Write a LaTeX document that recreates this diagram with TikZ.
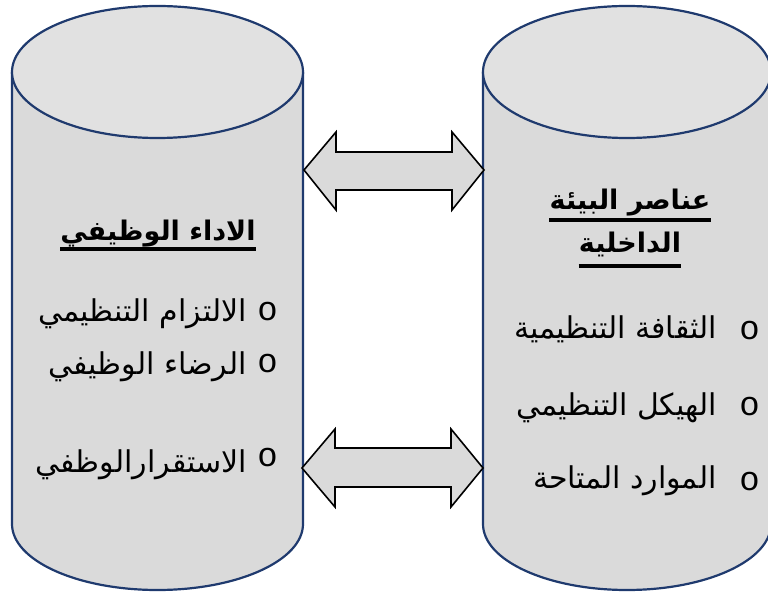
\documentclass[tikz,border=0pt]{standalone}
\usepackage{fontspec}
\TeXXeTstate=1
\newfontfamily\arabicfont[Script=Arabic]{DejaVu Sans}
\newfontfamily\bulletfont{Liberation Mono}
\definecolor{cylline}{HTML}{1F3A6E}
\definecolor{cylbody}{HTML}{DADADA}
\definecolor{cyltop}{HTML}{E1E1E1}
\tikzset{
  cylbody/.style={fill=cylbody, draw=cylline, line width=2.2pt},
  cyltop/.style={fill=cyltop, draw=cylline, line width=2.2pt},
  blockarrow/.style={fill=cylbody, draw=black, line width=1.6pt, line join=miter},
  ttl/.style={inner sep=0pt, font=\arabicfont\bfseries\fontsize{27}{32}\selectfont},
  itm/.style={inner sep=0pt, font=\arabicfont\fontsize{30}{34}\selectfont},
  bul/.style={inner sep=0pt, font=\bulletfont\fontsize{34}{36}\selectfont},
  uline/.style={line width=3.5pt}
}
\begin{document}
\begin{tikzpicture}[x=1pt,y=-1pt]
\useasboundingbox (0,0) rectangle (768,593);
% left cylinder
\path[cylbody] (12,72) -- (12,524) arc[start angle=180,end angle=360,x radius=145.5pt,y radius=66pt] -- (303,72);
\path[cyltop] (157.5,72) ellipse[x radius=145.5pt,y radius=66pt];
% right cylinder
\path[cylbody] (483,72) -- (483,524) arc[start angle=180,end angle=360,x radius=144pt,y radius=66pt] -- (771,72);
\path[cyltop] (627,72) ellipse[x radius=144pt,y radius=66pt];
% arrows
\draw[blockarrow] (304,170) -- (336,132) -- (336,152) -- (452,152) -- (452,132) -- (484,170)
  -- (452,210) -- (452,190) -- (336,190) -- (336,210) -- cycle;
\draw[blockarrow] (302,468) -- (335,429) -- (335,448) -- (451,448) -- (451,429) -- (483,468)
  -- (451,507) -- (451,487) -- (335,487) -- (335,507) -- cycle;
% left texts
\node[ttl, anchor=base] (lt) at (158,241) {\beginR الاداء الوظيفي\endR};
\draw[uline] ([yshift=-8pt]lt.base west) -- ([yshift=-8pt]lt.base east);
\node[bul, anchor=base] (lb1) at (267.5,321) {o};
\node[itm, anchor=base east] (li1) at (247,322) {\beginR الالتزام التنظيمي\endR};
\node[bul, anchor=base] (lb2) at (267.5,373) {o};
\node[itm, anchor=base east] (li2) at (247,374) {\beginR الرضاء الوظيفي\endR};
\node[bul, anchor=base] (lb3) at (267.5,466) {o};
\node[itm, anchor=base east] (li3) at (247,472) {\beginR الاستقرارالوظفي\endR};
% right texts
\node[ttl, anchor=base] (rt1) at (630,210) {\beginR عناصر البيئة\endR};
\draw[uline] ([yshift=-10pt]rt1.base west) -- ([yshift=-10pt]rt1.base east);
\node[ttl, anchor=base] (rt2) at (630,253) {\beginR الداخلية\endR};
\draw[uline] ([yshift=-13pt]rt2.base west) -- ([yshift=-13pt]rt2.base east);
\node[bul, anchor=base] (rb1) at (749.5,339.5) {o};
\node[itm, anchor=base east] (ri1) at (717,338) {\beginR الثقافة التنظيمية\endR};
\node[bul, anchor=base] (rb2) at (749.5,415.5) {o};
\node[itm, anchor=base east] (ri2) at (717,415) {\beginR الهيكل التنظيمي\endR};
\node[bul, anchor=base] (rb3) at (749.5,490.5) {o};
\node[itm, anchor=base east] (ri3) at (717,488) {\beginR الموارد المتاحة\endR};
\end{tikzpicture}
\end{document}
